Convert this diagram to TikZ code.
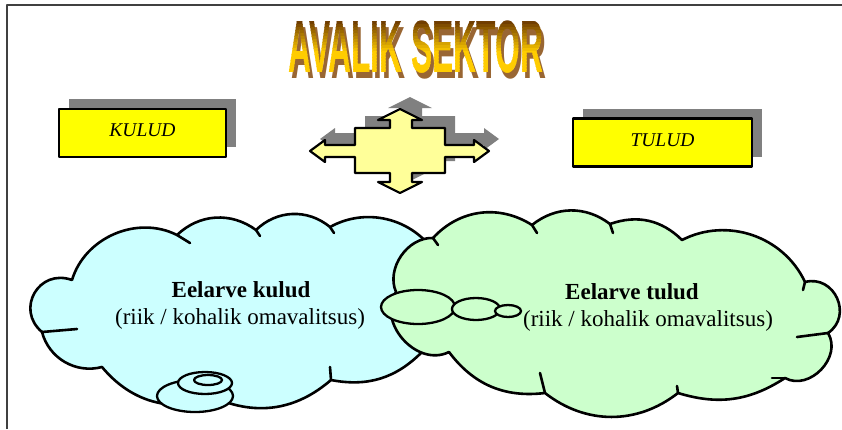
\documentclass[tikz,border=0pt]{standalone}
\usepackage{fontspec}
\setmainfont{Liberation Serif}
\newfontfamily\titlefamily{Liberation Sans}
\usepackage{graphicx}
\usetikzlibrary{shadows,shapes.geometric}

\tikzset{
  yellowbox/.style={draw=black, line width=2.3pt, fill=custcol_yellow, inner sep=0pt,
    minimum width=167pt, minimum height=48pt, text height=13pt, text depth=6pt,
    font=\fontsize{19.5pt}{19.5pt}\selectfont\itshape,
    drop shadow={shadow xshift=10pt, shadow yshift=10pt, draw=none, fill=custcol_shadow, opacity=1}},
  cloudline/.style={draw=black, line width=2.6pt, line cap=round},
  bubble/.style={ellipse, draw=black, line width=2.3pt, inner sep=0pt},
  headline/.style={font=\fontsize{23pt}{23pt}\selectfont\bfseries, inner sep=0pt, anchor=base},
  subline/.style={font=\fontsize{23pt}{23pt}\selectfont, inner sep=0pt, anchor=base},
  titletext/.style={font=\titlefamily\fontsize{74pt}{74pt}\selectfont\bfseries, inner sep=0pt}
}

\begin{document}
\begin{tikzpicture}[x=1pt,y=-1pt,line join=round]
\definecolor{custcol_frame}{RGB}{64,64,64}
\definecolor{custcol_shadow}{RGB}{128,128,128}
\definecolor{custcol_yellow}{RGB}{255,255,0}
\definecolor{custcol_arrow}{RGB}{255,255,153}
\definecolor{custcol_cyan}{RGB}{204,255,255}
\definecolor{custcol_green}{RGB}{204,255,204}
\definecolor{custcol_brown}{RGB}{102,51,0}
\definecolor{custcol_gold}{RGB}{255,204,0}
\definecolor{custcol_echo}{RGB}{153,102,51}
\useasboundingbox (0,0) rectangle (842,429);
% frame
\draw [line width=1.3pt, custcol_frame] (7,429) -- (7,5) -- (842,5);
% title, shaded in horizontal bands
\node [titletext, text=custcol_echo] (titleecho) at (419,53) {\scalebox{0.43}[1]{AVALIK SEKTOR}};
\foreach \i in {0,...,19} {
  \pgfmathtruncatemacro\pct{max(0,min(100,(3*\i-0.5)*100/32))}
  \begin{scope}
    \clip (255,18+3*\i) rectangle (580,21.6+3*\i);
    \node [titletext, text=custcol_gold!\pct!custcol_brown] at (416,47) {\scalebox{0.43}[1]{AVALIK SEKTOR}};
  \end{scope}
}
\node [inner sep=0pt] (title) at (416,47) {};
% boxes
\node [yellowbox] (kulud) at (142.5,133) {KULUD};
\node [yellowbox, minimum width=179pt] (tulud) at (662.5,142.5) {TULUD};
% four-way arrow
\def\quadarrow{(400,109) -- (422,120) -- (412,120) -- (412,128) -- (445,128) -- (445,145)
  -- (474,145) -- (474,140) -- (489,151) -- (474,162) -- (474,157) -- (445,157)
  -- (445,173) -- (412,173) -- (412,182) -- (422,182) -- (400,193) -- (378,182)
  -- (390,182) -- (390,173) -- (355,173) -- (355,157) -- (325,157) -- (325,162)
  -- (310,151) -- (325,140) -- (325,145) -- (355,145) -- (355,128) -- (390,128)
  -- (390,120) -- (378,120) -- cycle}
\fill [custcol_shadow, shift={(10,-12)}] \quadarrow;
\draw [line width=2.2pt, fill=custcol_arrow] \quadarrow;
% left cloud
\coordinate (l1) at (72,280);
\coordinate (l2) at (177,235);
\coordinate (l3) at (256,230);
\coordinate (l4) at (330,227);
\coordinate (l5) at (438,258);
\coordinate (l6) at (422,352);
\coordinate (l7) at (331,380);
\coordinate (l8) at (215,398);
\coordinate (l9) at (102,367);
\coordinate (l10) at (42,332);
\draw [cloudline, line cap=butt, fill=custcol_cyan] (l1) to[bend left=50] (l2) to[bend left=40] (l3)
  to[bend left=42] (l4) to[bend left=45] (l5) to[bend left=55] (l6) to[bend left=28] (l7)
  to[bend left=32] (l8) to[bend left=35] (l9) to[bend left=45] (l10)
  to[bend left=80, looseness=1.5] (l1) -- cycle;
\draw [cloudline] (l2) -- ++(13,8);
\draw [cloudline] (l3) -- ++(4,6);
\draw [cloudline] (l4) -- ++(4,6);
\draw [cloudline] (l7) -- ++(-1,-13);
\draw [cloudline] (l10) -- ++(35,-3);
\node [bubble, fill=custcol_cyan, minimum width=76pt, minimum height=32pt] (lb1) at (195,396) {};
\node [bubble, fill=custcol_cyan, minimum width=54pt, minimum height=22pt] (lb2) at (205,383) {};
\node [bubble, fill=custcol_cyan, minimum width=28pt, minimum height=10pt] (lb3) at (208,380) {};
% right cloud
\coordinate (r1) at (396,292);
\coordinate (r2) at (433,238);
\coordinate (r3) at (532,225);
\coordinate (r4) at (610,224);
\coordinate (r5) at (682,240);
\coordinate (r6) at (805,282);
\coordinate (r7) at (828,333);
\coordinate (r8) at (785,378);
\coordinate (r9) at (678,393);
\coordinate (r10) at (545,393);
\coordinate (r11) at (449,352);
\draw [cloudline, line cap=butt, fill=custcol_green] (r1) to[bend left=58] (r2) to[bend left=40] (r3)
  to[bend left=38] (r4) to[bend left=32] (r5) to[bend left=46] (r6)
  to[bend left=80, looseness=1.4] (r7) to[bend left=75, looseness=1.15] (r8)
  to[bend left=25] (r9) to[bend left=38] (r10) to[bend left=30] (r11)
  to[bend left=75, looseness=1.15] (r1) -- cycle;
\draw [cloudline] (r2) -- ++(5,7);
\draw [cloudline] (r3) -- ++(5,8);
\draw [cloudline] (r4) -- ++(3,9);
\draw [cloudline] (r6) -- ++(-2,8);
\draw [cloudline] (r7) -- ++(-31,4);
\draw [cloudline] (r8) -- ++(-13,0);
\draw [cloudline] (r9) -- ++(-1,-7);
\draw [cloudline] (r10) -- ++(-5,-20);
\node [bubble, fill=custcol_green, minimum width=74pt, minimum height=34pt] (rb1) at (418,307) {};
\node [bubble, fill=custcol_green, minimum width=48pt, minimum height=22pt] (rb2) at (476,309) {};
\node [bubble, fill=custcol_green, minimum width=26pt, minimum height=12pt] (rb3) at (508,311) {};
% cloud texts
\node [headline] (kuludhead) at (241,297) {Eelarve kulud};
\node [subline] (kuludsub) at (240,324) {(riik / kohalik omavalitsus)};
\node [headline] (tuludhead) at (632,299) {Eelarve tulud};
\node [subline] (tuludsub) at (648,326) {(riik / kohalik omavalitsus)};
\end{tikzpicture}
\end{document}
